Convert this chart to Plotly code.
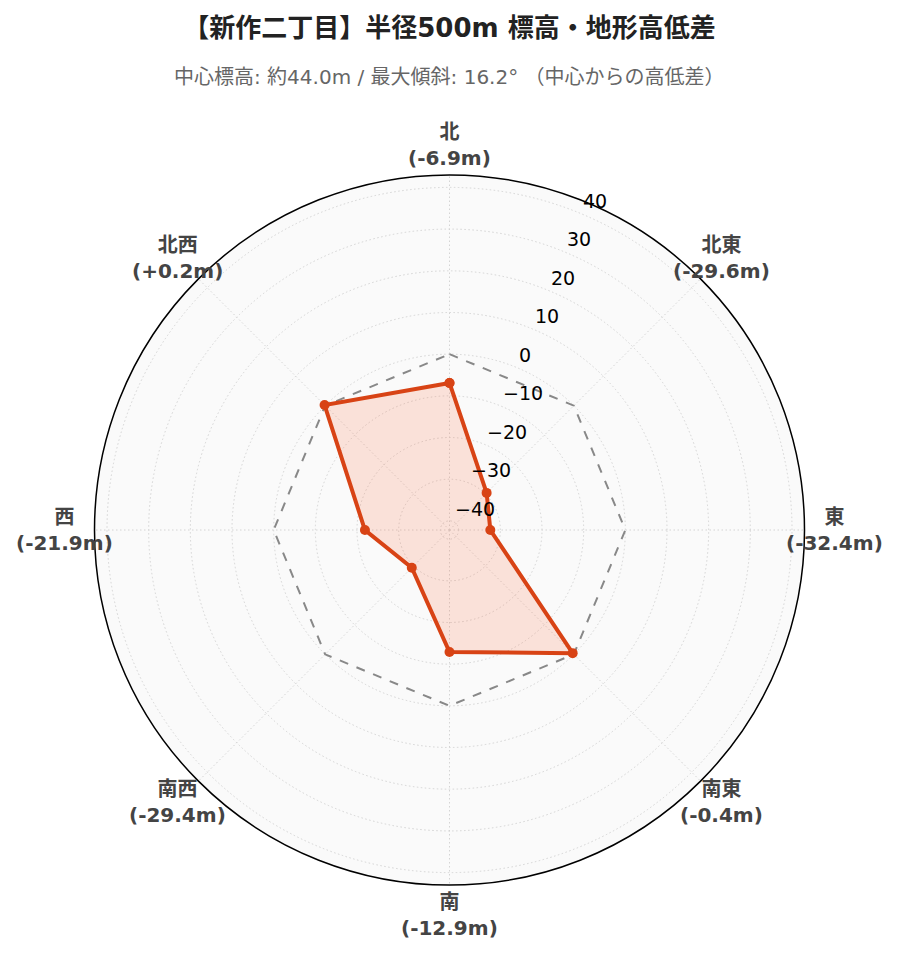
import math
import plotly.graph_objects as go

# 方位ごとの中心からの高低差 (m)
directions = ["北", "北東", "東", "南東", "南", "南西", "西", "北西"]
elevation_diff = [-6.9, -29.6, -32.4, -0.4, -12.9, -29.4, -21.9, 0.2]
baseline = [0, 0, 0, 0, 0, 0, 0, 0]
radial_ticks = [-40, -30, -20, -10, 0, 10, 20, 30, 40]

title_text = "【新作二丁目】半径500m 標高・地形高低差"
subtitle_text = "中心標高: 約44.0m / 最大傾斜: 16.2° （中心からの高低差）"

FONT = "DejaVu Sans, Noto Sans CJK JP, sans-serif"
R_RANGE = [-42.2, 43]

# figure geometry (the polar disc fills the plot area)
W, H = 883, 946
M = dict(l=86, r=86, t=167, b=69)
PLOT_W = W - M["l"] - M["r"]
PLOT_H = H - M["t"] - M["b"]
RADIUS_PX = min(PLOT_W, PLOT_H) / 2
LABEL_PX = RADIUS_PX + 30      # 方位ラベルの中心は外周の少し外
RADIAL_ANGLE = 67.5            # 目盛りラベルを並べる向き (画面上の角度)


def to_paper(dist_px, screen_deg):
    """Convert a distance from the centre (px) and screen angle into paper coords."""
    a = math.radians(screen_deg)
    return (0.5 + dist_px * math.cos(a) / PLOT_W,
            0.5 + dist_px * math.sin(a) / PLOT_H)


labels = [f"{d}<br>({v:+.1f}m)" if v > 0 else f"{d}<br>({v:.1f}m)"
          for d, v in zip(directions, elevation_diff)]

# close the polygons
theta = labels + labels[:1]
r_vals = elevation_diff + elevation_diff[:1]
r_base = baseline + baseline[:1]

fig = go.Figure()

fig.add_trace(go.Scatterpolar(
    r=r_base,
    theta=theta,
    mode="lines",
    line=dict(color="#888888", width=2, dash="dash"),
    hoverinfo="skip",
    showlegend=False,
))

fig.add_trace(go.Scatterpolar(
    r=r_vals,
    theta=theta,
    mode="lines+markers",
    fill="toself",
    fillcolor="rgba(255,87,34,0.15)",
    line=dict(color="#d84315", width=4),
    marker=dict(color="#d84315", size=10),
    showlegend=False,
))

annotations = [dict(
    text=subtitle_text,
    xref="paper", yref="paper",
    x=0.5, y=1 + (175 - 77) / PLOT_H,
    xanchor="center", yanchor="middle",
    showarrow=False,
    font=dict(size=20, color="#666666"),
)]

# direction labels, centred just outside the rim (clockwise from north)
for i, lab in enumerate(labels):
    x, y = to_paper(LABEL_PX, 90 - i * 360 / len(labels))
    annotations.append(dict(
        text=f"<b>{lab}</b>",
        xref="paper", yref="paper", x=x, y=y,
        xanchor="center", yanchor="middle",
        showarrow=False,
        font=dict(size=20, color="#444444"),
    ))

# radial tick labels, sitting above-right of each tick along the radial direction
px_per_unit = RADIUS_PX / (R_RANGE[1] - R_RANGE[0])
for t in radial_ticks:
    x, y = to_paper((t - R_RANGE[0]) * px_per_unit, RADIAL_ANGLE)
    annotations.append(dict(
        text=f"{t}".replace("-", "\u2212"),
        xref="paper", yref="paper", x=x, y=y,
        xanchor="left", yanchor="bottom",
        showarrow=False,
        font=dict(size=19, color="#000000"),
    ))

fig.update_layout(
    width=W,
    height=H,
    font=dict(family=FONT, size=19, color="#000000"),
    paper_bgcolor="white",
    title=dict(
        text=f"<b>{title_text}</b>",
        x=0.5,
        xanchor="center",
        y=0.979,
        yref="container",
        yanchor="middle",
        font=dict(size=26, color="#222222"),
    ),
    annotations=annotations,
    margin=M,
    polar=dict(
        bgcolor="#fafafa",
        angularaxis=dict(
            direction="clockwise",
            rotation=90,
            showline=True,
            linecolor="black",
            linewidth=1.5,
            gridcolor="#d4d4d4",
            griddash="1.5px,2.5px",
            showticklabels=False,
            ticks="",
        ),
        radialaxis=dict(
            range=R_RANGE,
            dtick=10,
            showline=False,
            showticklabels=False,
            gridcolor="#d4d4d4",
            griddash="1.5px,2.5px",
            ticks="",
        ),
    ),
)

fig.write_html("out.html")
